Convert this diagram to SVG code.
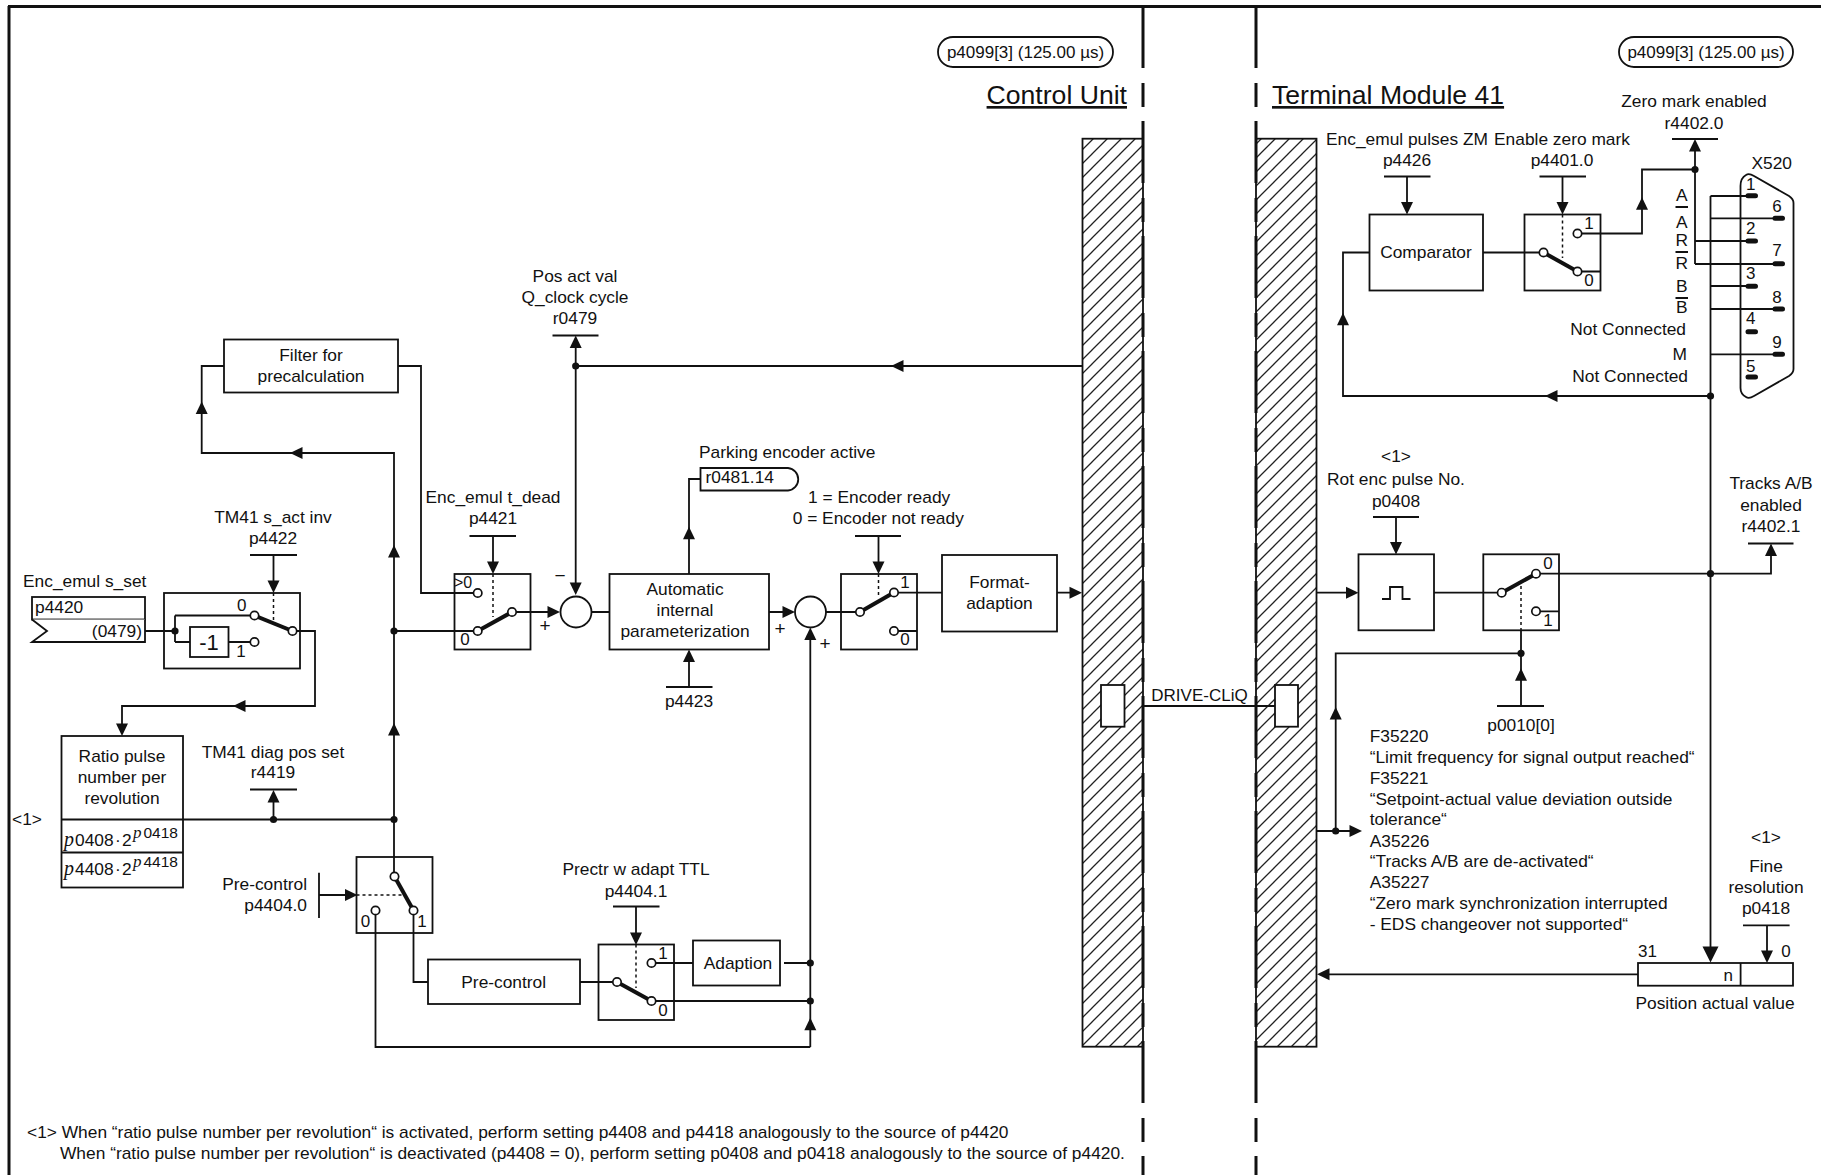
<svg xmlns="http://www.w3.org/2000/svg" xmlns:xlink="http://www.w3.org/1999/xlink" width="1821" height="1175" viewBox="0 0 1821 1175">
<style>
text{font-family:"Liberation Sans",Arial,sans-serif;font-size:17.35px;fill:#111}
.c{text-anchor:middle}.r{text-anchor:end}.s{font-size:17px}
.b{fill:#fff;stroke:#111;stroke-width:1.8}
.n{fill:none;stroke:#111;stroke-width:1.8}
.w{fill:none;stroke:#111;stroke-width:1.8}
.f{fill:none;stroke:#111;stroke-width:3}
.lv{fill:none;stroke:#111;stroke-width:4}
.d{fill:none;stroke:#111;stroke-width:1.5;stroke-dasharray:3 3}
.o{fill:#fff;stroke:#111;stroke-width:1.7}
.pin{stroke:#111;stroke-width:5;stroke-linecap:round}
.m{font-family:"Liberation Serif",serif;font-style:italic;font-size:20px}
.ms{font-family:"Liberation Serif",serif;font-style:italic;font-size:17px}
.h{font-size:26.6px;text-decoration:underline}
</style>
<defs>
<pattern id="hatch" width="14" height="14" patternUnits="userSpaceOnUse">
<path d="M-2 16L16 -2M-2 2L2 -2M12 16L16 12" fill="none" stroke="#222" stroke-width="1.3"/>
</pattern>
<polygon id="au" points="0,0 6,12.5 -6,12.5" fill="#111"/>
<polygon id="ad" points="0,0 6,-12.5 -6,-12.5" fill="#111"/>
<polygon id="al" points="0,0 12.5,6 12.5,-6" fill="#111"/>
<polygon id="ar" points="0,0 -12.5,6 -12.5,-6" fill="#111"/>
<circle id="j" r="3.6" fill="#111"/>
</defs>
<g id="frame">
<path class="f" d="M8 6.5H1821M9 6V1175"/>
</g>
<g id="hatch-control-unit"><rect x="1082.5" y="138.7" width="60.5" height="908" fill="url(#hatch)" stroke="#111" stroke-width="1.8"/></g>
<g id="hatch-terminal-module"><rect x="1256" y="138.7" width="60.5" height="908" fill="url(#hatch)" stroke="#111" stroke-width="1.8"/></g>
<g id="dividers">
<path d="M1143 6V1175M1256 6V1175" fill="none" stroke="#111" stroke-width="3" stroke-dasharray="62 15 24 14"/>
</g>
<g id="connectors">
<path class="w" d="M145 631H164M175 631H164M175 615.5V642M175 615.5H254M175 642H190M228.5 642H254M296 631H315V706H122V724"/>
<path class="w" d="M273.5 555V582M250 555H297"/>
<path class="w" d="M183 819.5H394M273.5 819.5V800M250 789.5H297"/>
<path class="w" d="M394 877V453H201.7V366H224M398 366H421V593H474"/>
<path class="w" d="M394 631H474M516 612H550M493 536V564M469.5 536H516"/>
<path class="w" d="M575.7 366V585M552.5 335.5H598.5M575.7 366V346M1082 366H575.7"/>
<path class="w" d="M591.5 612H610M689 574V479H700.5M689 687V660M666 687H712.5M769 612H784M826 612H856"/>
<path class="w" d="M878.5 536V564M855 536H901M897.5 592.7H942M1057 592.7H1072M897.5 631H917"/>
<path class="w" d="M810.3 1047V638M375.5 914V1047H810.3M784 963H810.3M655 1001H810.3M655 963H693M580 982H613M413.5 914V982H428"/>
<path class="w" d="M319 895H346M319 872.7V918M636 906.5V935M613 906.5H659.5"/>
<path class="w" d="M1142.5 706H1275"/>
<path class="w" d="M1407 176.5V204M1384 176.5H1430.5M1562.5 176.5V204M1539.5 176.5H1586M1369.5 252.5H1343V396H1710.5"/>
<path class="w" d="M1483 252.5H1540M1581 233.5H1642V169.5H1695M1695 264V150M1672 139H1718M1581 271.5H1600.5"/>
<path class="w" d="M1695 241H1748M1695 264H1775M1710.5 196H1748M1710.5 218.3H1775M1710.5 286H1748M1710.5 309H1775M1710.5 354.3H1775M1710.5 196V948"/>
<path class="w" d="M1316 592.7H1346M1396 517V544M1373 517H1419M1434 592.7H1498M1540 573.7H1771V554M1748 543.5H1793.5M1540 611.3H1559"/>
<path class="w" d="M1521 630.3V706M1497 706H1544M1521 653.3H1335.7V831M1316 831H1350M1638 974.3H1329M1743 925.3H1789.6M1767 925.3V952"/>
<use href="#ad" x="273.5" y="593"/><use href="#al" x="233" y="706"/><use href="#ad" x="122" y="736"/>
<use href="#au" x="273.5" y="790"/><use href="#au" x="394" y="545"/><use href="#au" x="394" y="723"/>
<use href="#al" x="290" y="453"/><use href="#au" x="201.7" y="401.5"/><use href="#au" x="575.7" y="335.5"/>
<use href="#ad" x="493" y="574"/><use href="#ar" x="560" y="612"/><use href="#ad" x="575.7" y="595"/>
<use href="#au" x="689" y="526.7"/><use href="#au" x="689" y="649.5"/><use href="#ar" x="795" y="612"/>
<use href="#au" x="810.3" y="627.5"/><use href="#ad" x="878.5" y="574"/><use href="#al" x="891" y="366"/>
<use href="#ar" x="1082" y="592.7"/><use href="#ar" x="357.5" y="895"/><use href="#ad" x="636" y="945"/>
<use href="#au" x="810.3" y="1017.7"/>
<use href="#ad" x="1407" y="214.5"/><use href="#ad" x="1562.5" y="214.5"/><use href="#au" x="1642" y="197.3"/>
<use href="#au" x="1695" y="139"/><use href="#au" x="1343" y="312.7"/><use href="#al" x="1545" y="396"/>
<use href="#ar" x="1358.5" y="592.7"/><use href="#ad" x="1396" y="554.5"/><use href="#au" x="1771" y="543.5"/>
<use href="#au" x="1521" y="668.3"/><use href="#au" x="1335.7" y="707"/><use href="#ar" x="1362" y="831"/>
<use href="#ad" x="1767" y="963"/><polygon points="1710.5,962.5 1702.5,946.5 1718.5,946.5" fill="#111"/><use href="#al" x="1317" y="974.3"/>
<use href="#j" x="175" y="631"/><use href="#j" x="273.5" y="819.5"/><use href="#j" x="394" y="819.5"/><use href="#j" x="394" y="631"/>
<use href="#j" x="575.7" y="366"/><use href="#j" x="810.3" y="963"/><use href="#j" x="810.3" y="1001"/>
<use href="#j" x="1695" y="169.5"/><use href="#j" x="1710.5" y="396"/><use href="#j" x="1710.5" y="573.7"/>
<use href="#j" x="1521" y="653.3"/><use href="#j" x="1335.7" y="831"/>
</g>
<g id="pill-cu"><rect x="938" y="37" width="175" height="30" rx="15" class="b"/><text x="1025.5" y="58" class="c" style="font-size:17px">p4099[3] (125.00 µs)</text></g>
<g id="pill-tm"><rect x="1619" y="37" width="174" height="30" rx="15" class="b"/><text x="1706" y="58" class="c" style="font-size:17px">p4099[3] (125.00 µs)</text></g>
<g id="title-cu"><text x="1127" y="104" class="r h">Control Unit</text></g>
<g id="title-tm"><text x="1272" y="104" class="h">Terminal Module 41</text></g>
<g id="src-p4420">
<text x="23" y="587">Enc_emul s_set</text>
<rect x="32" y="597" width="113" height="22.5" class="b"/>
<path class="b" d="M32 619.5L47 631L32 642H145V619.5"/>
<text x="35" y="613">p4420</text><text x="142" y="637" class="r">(0479)</text>
</g>
<g id="sw-p4422">
<text x="273" y="523" class="c">TM41 s_act inv</text><text x="273" y="544" class="c">p4422</text>
<rect x="164" y="593" width="136" height="75.5" class="n"/>
<rect x="190" y="627" width="38.5" height="30" class="b"/><text x="209" y="650" class="c" style="font-size:22px">-1</text>
<path class="d" d="M273.5 593V620"/><path class="lv" d="M254.5 615.5L292.5 631"/>
<circle class="o" cx="254.5" cy="615.5" r="4.2"/><circle class="o" cx="254.5" cy="642" r="4.2"/><circle class="o" cx="292.5" cy="631" r="4.2"/>
<text x="241.7" y="611" class="c s">0</text><text x="241" y="657" class="c s">1</text>
</g>
<g id="ratio">
<rect x="61.5" y="736" width="121.5" height="151.5" class="n"/><path class="n" d="M61.5 819.5H183M61.5 852.5H183"/>
<text x="122" y="762" class="c">Ratio pulse</text><text x="122" y="783" class="c">number per</text><text x="122" y="804" class="c">revolution</text>
<text x="64" y="846"><tspan class="m">p</tspan><tspan x="75">0408</tspan><tspan x="115">·</tspan><tspan x="122">2</tspan></text><text x="133" y="838" style="font-size:15.5px"><tspan class="ms">p</tspan><tspan x="143.5">0418</tspan></text>
<text x="64" y="875"><tspan class="m">p</tspan><tspan x="75">4408</tspan><tspan x="115">·</tspan><tspan x="122">2</tspan></text><text x="133" y="867" style="font-size:15.5px"><tspan class="ms">p</tspan><tspan x="143.5">4418</tspan></text>
<text x="27" y="825" class="c">&lt;1&gt;</text>
</g>
<g id="diag-r4419"><text x="273" y="758" class="c">TM41 diag pos set</text><text x="273" y="778" class="c">r4419</text></g>
<g id="filter"><rect x="224" y="339.5" width="174" height="53" class="n"/><text x="311" y="361" class="c">Filter for</text><text x="311" y="382" class="c">precalculation</text></g>
<g id="pos-r0479"><text x="575" y="282" class="c">Pos act val</text><text x="575" y="303" class="c">Q_clock cycle</text><text x="575" y="324" class="c">r0479</text></g>
<g id="sw-p4421">
<text x="493" y="503" class="c">Enc_emul t_dead</text><text x="493" y="524" class="c">p4421</text>
<rect x="454.5" y="574" width="76" height="75.5" class="n"/>
<path class="d" d="M493 574V617"/><path class="lv" d="M477.7 631L512 612"/>
<circle class="o" cx="477.7" cy="593" r="4.2"/><circle class="o" cx="477.7" cy="631" r="4.2"/><circle class="o" cx="512" cy="612" r="4.2"/>
<text x="454" y="588" style="font-size:16px">&gt;0</text><text x="465" y="645" class="c s">0</text>
</g>
<g id="sum1"><circle cx="576" cy="612" r="15.5" class="n"/><text x="545" y="632" class="c" style="font-size:19px">+</text><text x="560" y="582" class="c" style="font-size:19px">−</text></g>
<g id="aip">
<rect x="609.5" y="574" width="159.5" height="75.5" class="n"/>
<text x="685" y="595" class="c">Automatic</text><text x="685" y="616" class="c">internal</text><text x="685" y="637" class="c">parameterization</text>
<text x="689" y="707" class="c">p4423</text>
</g>
<g id="r0481">
<text x="699" y="458">Parking encoder active</text>
<path class="n" d="M700.5 468H788A11.3 11.3 0 0 1 788 490.5H700.5Z"/><text x="705.5" y="483">r0481.14</text>
</g>
<g id="sum2"><circle cx="810.5" cy="612" r="15.5" class="n"/><text x="780" y="635" class="c" style="font-size:19px">+</text><text x="825" y="650" class="c" style="font-size:19px">+</text></g>
<g id="sw-ready">
<text x="808" y="503">1 = Encoder ready</text><text x="792.7" y="524">0 = Encoder not ready</text>
<rect x="841" y="574" width="76" height="75.5" class="n"/>
<path class="d" d="M878.5 574V597"/><path class="lv" d="M860 612L894 592.5"/>
<circle class="o" cx="860" cy="612" r="4.2"/><circle class="o" cx="894" cy="592.5" r="4.2"/><circle class="o" cx="894" cy="631" r="4.2"/>
<text x="905" y="588" class="c s">1</text><text x="905" y="645" class="c s">0</text>
</g>
<g id="format"><rect x="942" y="555" width="115" height="76.5" class="n"/><text x="999.5" y="588" class="c">Format-</text><text x="999.5" y="609" class="c">adaption</text></g>
<g id="sw-p44040">
<text x="307" y="890" class="r">Pre-control</text><text x="307" y="911" class="r">p4404.0</text>
<rect x="356.5" y="857" width="76" height="76" class="n"/>
<path class="d" d="M356.5 895H403"/><path class="lv" d="M394.5 876.5L413.5 910.5"/>
<circle class="o" cx="394.5" cy="876.5" r="4.2"/><circle class="o" cx="413.5" cy="910.5" r="4.2"/><circle class="o" cx="375.5" cy="910.5" r="4.2"/>
<text x="365.5" y="927" class="c s">0</text><text x="422" y="927" class="c s">1</text>
</g>
<g id="precontrol"><rect x="428" y="959.5" width="152" height="44.5" class="n"/><text x="503.7" y="988" class="c">Pre-control</text></g>
<g id="sw-p44041">
<text x="636" y="875" class="c">Prectr w adapt TTL</text><text x="636" y="896.5" class="c">p4404.1</text>
<rect x="598.5" y="944.5" width="75.5" height="75.5" class="n"/>
<path class="d" d="M636 944.5V988"/><path class="lv" d="M617 982L651.5 1001"/>
<circle class="o" cx="617" cy="982" r="4.2"/><circle class="o" cx="651.5" cy="963" r="4.2"/><circle class="o" cx="651.5" cy="1001" r="4.2"/>
<text x="663" y="959" class="c s">1</text><text x="663" y="1016" class="c s">0</text>
</g>
<g id="adaption"><rect x="693" y="940.5" width="87" height="45" class="n"/><text x="738" y="969" class="c">Adaption</text></g>
<g id="port-cu"><rect x="1101" y="685" width="23.5" height="41.7" class="b"/></g>
<g id="port-tm"><rect x="1275" y="685" width="23" height="41.7" class="b"/></g>
<g id="drivecliq"><text x="1199.5" y="701" class="c" style="font-size:17px">DRIVE-CLiQ</text></g>
<g id="comparator">
<text x="1407" y="145" class="c">Enc_emul pulses ZM</text><text x="1407" y="166" class="c">p4426</text>
<rect x="1369.5" y="214.5" width="113.5" height="76" class="n"/><text x="1426" y="258" class="c">Comparator</text>
</g>
<g id="sw-p4401">
<text x="1562" y="145" class="c">Enable zero mark</text><text x="1562" y="166" class="c">p4401.0</text>
<rect x="1524.5" y="214.5" width="76" height="76" class="n"/>
<path class="d" d="M1562.5 214.5V258"/><path class="lv" d="M1543.5 252.5L1577.5 271.5"/>
<circle class="o" cx="1543.5" cy="252.5" r="4.2"/><circle class="o" cx="1577.5" cy="233.5" r="4.2"/><circle class="o" cx="1577.5" cy="271.5" r="4.2"/>
<text x="1589" y="229" class="c s">1</text><text x="1589" y="286" class="c s">0</text>
</g>
<g id="r44020"><text x="1694" y="107" class="c">Zero mark enabled</text><text x="1694" y="128.7" class="c">r4402.0</text></g>
<g id="x520">
<text x="1771.7" y="169" class="c">X520</text>
<path class="n" d="M1740.5 186Q1740.5 178 1746 175Q1749 173 1754 176L1789 196Q1793.5 199 1793.5 203V369Q1793.5 373 1789 376L1754 396Q1749 399 1746 397Q1740.5 394 1740.5 388Z"/>
<path class="pin" d="M1748 195.7H1755.5M1775 218.3H1782.5M1748 241H1755.5M1775 263.7H1782.5M1748 286.3H1755.5M1775 309H1782.5M1748 331.7H1755.5M1775 354.3H1782.5M1748 377H1755.5"/>
<text x="1750.7" y="190" class="c s">1</text><text x="1777" y="212" class="c s">6</text><text x="1750.7" y="234" class="c s">2</text><text x="1777" y="256" class="c s">7</text><text x="1750.7" y="279" class="c s">3</text><text x="1777" y="302.7" class="c s">8</text><text x="1750.7" y="324" class="c s">4</text><text x="1777" y="348" class="c s">9</text><text x="1750.7" y="371.7" class="c s">5</text>
</g>
<g id="signals">
<text x="1681.7" y="201" class="c">A</text><text x="1681.7" y="227.7" class="c">A</text><text x="1681.7" y="246" class="c">R</text><text x="1681.7" y="269.3" class="c">R</text><text x="1681.7" y="291.7" class="c">B</text><text x="1681.7" y="313" class="c">B</text>
<path class="n" d="M1675.5 207H1688M1675.5 252H1688M1675.5 298H1688"/>
<text x="1686" y="335" class="r">Not Connected</text><text x="1687" y="360" class="r">M</text><text x="1688" y="381.7" class="r">Not Connected</text>
</g>
<g id="pulse">
<text x="1396" y="461.7" class="c">&lt;1&gt;</text><text x="1396" y="485" class="c">Rot enc pulse No.</text><text x="1396" y="506.7" class="c">p0408</text>
<rect x="1358.5" y="554.3" width="75.5" height="76" class="n"/>
<path class="n" d="M1382 599H1390V587H1402.5V599H1410.5"/>
</g>
<g id="sw-p0010">
<rect x="1483.3" y="554.3" width="75.7" height="76" class="n"/>
<path class="d" d="M1521 586V630"/><path class="lv" d="M1501.7 592.7L1536 573.7"/>
<circle class="o" cx="1501.7" cy="592.7" r="4.2"/><circle class="o" cx="1536" cy="573.7" r="4.2"/><circle class="o" cx="1536" cy="611.3" r="4.2"/>
<text x="1548" y="569" class="c s">0</text><text x="1548" y="626" class="c s">1</text>
<text x="1521" y="730.7" class="c">p0010[0]</text>
</g>
<g id="tracks"><text x="1771" y="489" class="c">Tracks A/B</text><text x="1771" y="510.7" class="c">enabled</text><text x="1771" y="531.7" class="c">r4402.1</text></g>
<g id="messages">
<text x="1369.7" y="741.7">F35220</text><text x="1369.7" y="763">“Limit frequency for signal output reached“</text><text x="1369.7" y="783.5">F35221</text><text x="1369.7" y="804.5">“Setpoint-actual value deviation outside</text><text x="1369.7" y="825">tolerance“</text><text x="1369.7" y="846.5">A35226</text><text x="1369.7" y="867">“Tracks A/B are de-activated“</text><text x="1369.7" y="887.5">A35227</text><text x="1369.7" y="908.5">“Zero mark synchronization interrupted</text><text x="1369.7" y="929.5">- EDS changeover not supported“</text>
</g>
<g id="fine"><text x="1766" y="843" class="c">&lt;1&gt;</text><text x="1766" y="871.7" class="c">Fine</text><text x="1766" y="892.7" class="c">resolution</text><text x="1766" y="914" class="c">p0418</text></g>
<g id="position">
<rect x="1638" y="963" width="155" height="22.7" class="n"/><path class="n" d="M1740.6 963V985.7"/>
<text x="1733" y="980.5" class="r s">n</text><text x="1638" y="957.3" class="s">31</text><text x="1786" y="957.3" class="c s">0</text>
<text x="1715" y="1008.5" class="c">Position actual value</text>
</g>
<g id="footnote">
<text x="27" y="1138">&lt;1&gt; When “ratio pulse number per revolution“ is activated, perform setting p4408 and p4418 analogously to the source of p4420</text>
<text x="60" y="1159">When “ratio pulse number per revolution“ is deactivated (p4408 = 0), perform setting p0408 and p0418 analogously to the source of p4420.</text>
</g>
</svg>
